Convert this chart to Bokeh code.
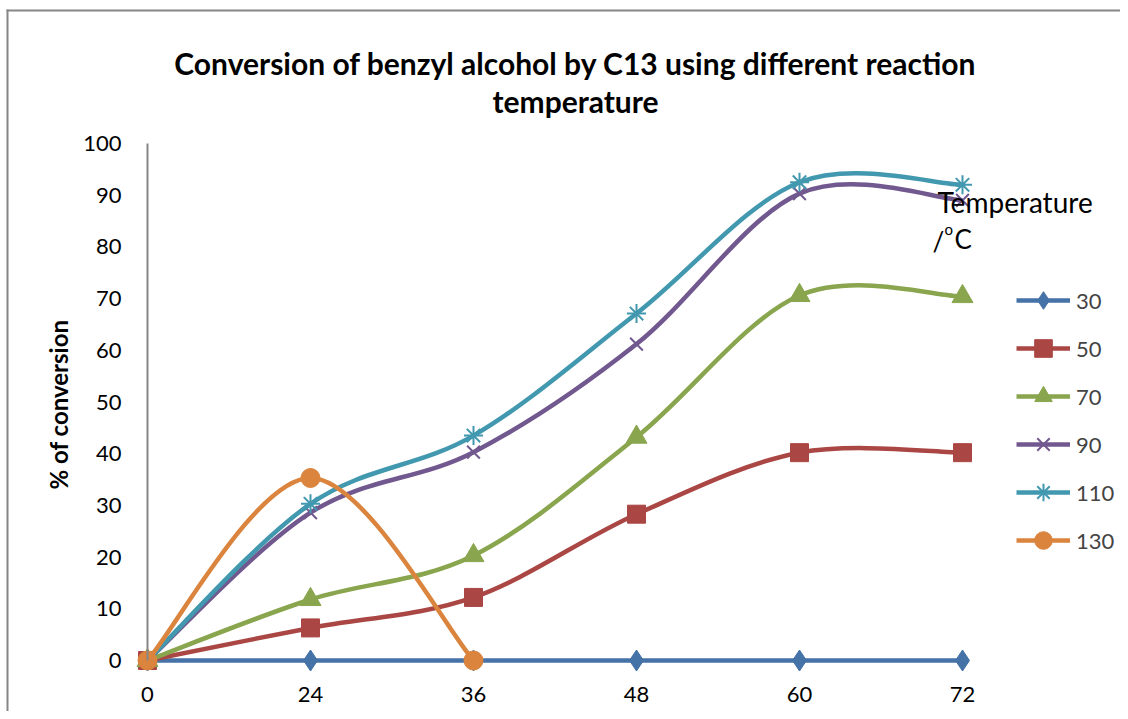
from bokeh.plotting import figure
from bokeh.models import Range1d, FixedTicker, Label, Legend, LegendItem, BoxAnnotation
from bokeh.embed import file_html
from bokeh.resources import INLINE
import math

# ---------------- data ----------------
hours = [0, 24, 36, 48, 60, 72]
temps = ["30", "50", "70", "90", "110", "130"]
conv_30 = [0, 0, 0, 0, 0, 0]
conv_50 = [0, 6.3, 12.2, 28.3, 40.2, 40.2]
conv_70 = [0, 11.8, 20.3, 43.2, 70.6, 70.4]
conv_90 = [0, 28.6, 40.3, 61.2, 90.3, 89.0]
conv_110 = [0, 30.3, 43.5, 67.1, 92.5, 92.0]
conv_130 = [0, 35.3, 0]
y_ticks = [0, 10, 20, 30, 40, 50, 60, 70, 80, 90, 100]

series = [conv_30, conv_50, conv_70, conv_90, conv_110, conv_130]
colors = ["#4572A7", "#AA4643", "#89A54E", "#71588F", "#4198AF", "#DB843D"]
markers = ["diamond", "square", "triangle", "x", "asterisk", "circle"]
msizes = [21, 18, 21, 18, 19, 19]

FONT = "Lato"

# ---------------- layout (pixels) ----------------
W, H = 1120, 711
X0_PX, XSTEP = 147, 163          # category 0 position, spacing between categories
Y0_PX, YSCALE = 660, 5.17        # value 0 position, px per unit

x_start = -X0_PX / XSTEP
x_end = x_start + W / XSTEP
y_start = -(H - Y0_PX) / YSCALE
y_end = y_start + H / YSCALE

p = figure(width=W, height=H, output_backend="svg", toolbar_location=None,
           x_range=Range1d(x_start, x_end), y_range=Range1d(y_start, y_end),
           min_border_left=0, min_border_right=0, min_border_top=0, min_border_bottom=0)
p.title.visible = False
p.outline_line_color = None
p.grid.visible = False
p.background_fill_color = "white"
p.border_fill_color = "white"

xi = list(range(len(hours)))
p.xaxis.ticker = FixedTicker(ticks=xi)
p.xaxis.major_label_overrides = {i: str(h) for i, h in zip(xi, hours)}
p.xaxis.fixed_location = y_ticks[0]
p.xaxis.axis_line_color = None
p.yaxis.ticker = FixedTicker(ticks=y_ticks)
p.yaxis.fixed_location = xi[0]
p.yaxis.bounds = (y_ticks[0], y_ticks[-1])
p.yaxis.axis_line_color = "#868686"
p.yaxis.axis_line_width = 2
for ax in (p.xaxis, p.yaxis):
    ax.major_tick_line_color = None
    ax.minor_tick_line_color = None
    ax.major_tick_out = 0
    ax.major_tick_in = 0
    ax.major_label_text_font = FONT
    ax.major_label_text_font_size = "22px"
    ax.major_label_text_color = "black"
p.yaxis.major_label_standoff = 26
p.xaxis.major_label_standoff = 26


def smooth(xs, ys):
    n = len(xs)
    out = dict(x0=[], y0=[], x1=[], y1=[], cx0=[], cy0=[], cx1=[], cy1=[])
    for i in range(n - 1):
        a = max(i - 1, 0)
        b = min(i + 2, n - 1)
        out["x0"].append(xs[i]); out["y0"].append(ys[i])
        out["x1"].append(xs[i + 1]); out["y1"].append(ys[i + 1])
        out["cx0"].append(xs[i] + (xs[i + 1] - xs[a]) / 6)
        out["cy0"].append(ys[i] + (ys[i + 1] - ys[a]) / 6)
        out["cx1"].append(xs[i + 1] - (xs[b] - xs[i]) / 6)
        out["cy1"].append(ys[i + 1] - (ys[b] - ys[i]) / 6)
    return out


items = []
for name, ys, col, mk, ms in zip(temps, series, colors, markers, msizes):
    xs = xi[:len(ys)]
    d = smooth(xs, ys)
    r1 = p.bezier(x0=d["x0"], y0=d["y0"], x1=d["x1"], y1=d["y1"],
                  cx0=d["cx0"], cy0=d["cy0"], cx1=d["cx1"], cy1=d["cy1"],
                  line_color=col, line_width=4.5)
    if mk in ("x", "asterisk"):
        r2 = p.scatter(xs, ys, marker=mk, size=ms, line_color=col, line_width=2)
    else:
        r2 = p.scatter(xs, ys, marker=mk, size=ms, fill_color=col,
                       line_color=col, line_width=1)
    items.append(LegendItem(label=name, renderers=[r1, r2]))

legend = Legend(items=items, location=(1016, H - 562),
                glyph_width=54, glyph_height=44, label_height=44,
                spacing=4, padding=0, margin=0, label_standoff=6,
                label_text_font=FONT, label_text_font_size="22px",
                border_line_color=None, background_fill_alpha=0)
p.add_layout(legend)


def lab(text, px, py, size, bold=False, align="left", baseline="alphabetic", angle=0.0):
    p.add_layout(Label(x=px, y=H - py, x_units="screen", y_units="screen",
                       text=text, text_font=FONT, text_font_size=size,
                       text_font_style="bold" if bold else "normal",
                       text_align=align, text_baseline=baseline, angle=angle,
                       text_color="black"))


lab("Conversion of benzyl alcohol by C13 using different reaction", 575, 62, "30px", True, "center")
lab("temperature", 575, 100, "30px", True, "center")
lab("% of conversion", 58, 404, "24px", True, "center", "middle", math.pi / 2)
lab("Temperature", 937, 201, "28px")
lab("/", 932, 240, "26px")
lab("o", 944, 228, "15px")
lab("C", 954, 238, "26px")

# chart-area border: only its left and top edges fall inside the window
BORDER = "#868686"
p.add_layout(BoxAnnotation(left=6, right=8, top=H - 9, bottom=0,
                           left_units="screen", right_units="screen",
                           top_units="screen", bottom_units="screen",
                           fill_color=BORDER, fill_alpha=1, line_alpha=0))
p.add_layout(BoxAnnotation(left=6, right=W, top=H - 9, bottom=H - 11,
                           left_units="screen", right_units="screen",
                           top_units="screen", bottom_units="screen",
                           fill_color=BORDER, fill_alpha=1, line_alpha=0))

open("out.html", "w").write(file_html(p, INLINE))
